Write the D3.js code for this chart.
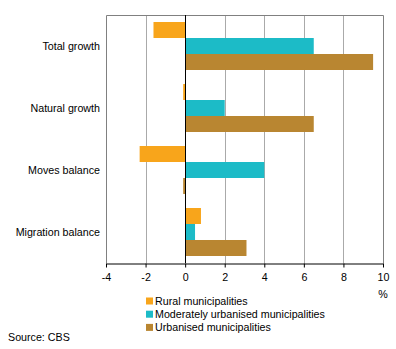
<!DOCTYPE html>
<html><head><meta charset="utf-8">
<script src="https://cdn.jsdelivr.net/npm/d3@7"></script>
<style>body{margin:0;background:#fff}svg{display:block;font-family:"Liberation Sans",Arial,sans-serif}</style>
</head><body>
<script>
const categories = ["Total growth","Natural growth","Moves balance","Migration balance"];
const seriesNames = ["Rural municipalities","Moderately urbanised municipalities","Urbanised municipalities"];
const rural = [-1.6, -0.1, -2.3, 0.8];
const moderate = [6.5, 2.0, 4.0, 0.5];
const urbanised = [9.5, 6.5, -0.1, 3.1];
const xTicks = [-4,-2,0,2,4,6,8,10];
const colors = ["#F8A51B","#1CBBC7","#B98631"];
const series = [rural, moderate, urbanised];

(function(){
const W=396,H=349,FS=10.7;
const svg=d3.select("body").append("svg").attr("width",W).attr("height",H);
const pL=106,pR=383,pT=15,pB=263;
const x=d3.scaleLinear().domain([-4,10]).range([pL,pR]);
const y=d3.scaleBand().domain(categories).range([pT,pB]).paddingInner(0.226).paddingOuter(0.113);
const y1=d3.scaleBand().domain(d3.range(3)).range([0,y.bandwidth()]);

svg.append("g").selectAll("line").data(xTicks.slice(1,-1)).join("line")
 .attr("x1",d=>Math.round(x(d))+0.5).attr("x2",d=>Math.round(x(d))+0.5).attr("y1",pT).attr("y2",pB)
 .attr("stroke","#aaaaaa").attr("stroke-width",1);
svg.append("path").attr("d",`M${pL+0.5},${pB}V${pT+0.5}H${pR+0.5}V${pB}`)
 .attr("fill","none").attr("stroke","#808080");

categories.forEach((c,i)=>{
  series.forEach((s,j)=>{
    const v=s[i];
    svg.append("rect").attr("x",x(Math.min(0,v))).attr("width",Math.abs(x(v)-x(0)))
      .attr("y",y(c)+y1(j)).attr("height",y1.bandwidth()).attr("fill",colors[j]);
  });
});
svg.append("line").attr("x1",Math.round(x(0))+0.5).attr("x2",Math.round(x(0))+0.5).attr("y1",pT).attr("y2",pB).attr("stroke","#000");

const ax=svg.append("g").attr("transform",`translate(0,${pB+0.5})`)
 .call(d3.axisBottom(x).tickValues(xTicks).tickFormat(d=>String(d)).tickSize(4).tickSizeOuter(0).tickPadding(6));
ax.select(".domain").attr("stroke","#000");
ax.selectAll("line").attr("stroke","#000");
ax.selectAll("text").attr("font-size",FS).attr("fill","#000").attr("font-family","Liberation Sans, Arial, sans-serif");

svg.append("text").attr("x",x(10)).attr("y",298).attr("text-anchor","middle").attr("font-size",FS).text("%");

svg.append("g").selectAll("text").data(categories).join("text")
 .attr("x",100).attr("y",d=>y(d)+y.bandwidth()/2).attr("dy","0.35em").attr("text-anchor","end")
 .attr("font-size",FS).text(d=>d);

const lg=svg.append("g");
seriesNames.forEach((n,i)=>{
  const cy=301+i*13.2;
  lg.append("rect").attr("x",146).attr("y",cy-3.5).attr("width",7).attr("height",7).attr("fill",colors[i]);
  lg.append("text").attr("x",155).attr("y",cy).attr("dy","0.35em").attr("font-size",FS).text(n);
});
svg.append("text").attr("x",8).attr("y",337).attr("dy","0.35em").attr("font-size",FS).text("Source: CBS");
})();
</script>
</body></html>
